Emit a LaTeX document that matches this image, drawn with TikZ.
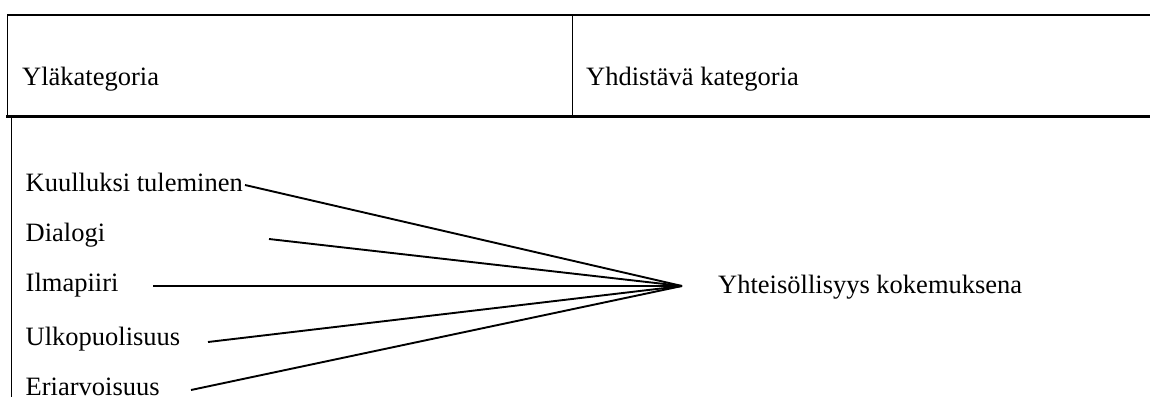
\documentclass[tikz,border=0pt]{standalone}
\usepackage{fontspec}
\setmainfont{Liberation Serif}
\begin{document}
\begin{tikzpicture}[x=1pt,y=-1pt,
  lbl/.style={anchor=base west,inner sep=0pt,font=\fontsize{26.5}{30}\selectfont},
  link/.style={line width=1.9pt},
  rule/.style={line width=1.7pt},
  heavy/.style={line width=3.4pt}]
\useasboundingbox (0,0) rectangle (1150,396);
\clip (0,0) rectangle (1150,396);
% header row of the table
\draw[rule] (1160,15) -- (7.5,15) -- (7.5,117);
\draw[rule] (572.5,15) -- (572.5,117);
\draw[heavy] (6,116.7) -- (1160,116.7);
\draw[rule] (11.5,117) -- (11.5,410);
\node[lbl] (head1) at (22,85) {Yläkategoria};
\node[lbl] (head2) at (586,85) {Yhdistävä kategoria};
% categories
\node[lbl] (k1) at (25.5,191.5) {Kuulluksi tuleminen};
\node[lbl] (k2) at (25.5,241.5) {Dialogi};
\node[lbl] (k3) at (25.5,291.5) {Ilmapiiri};
\node[lbl] (k4) at (25.5,345) {Ulkopuolisuus};
\node[lbl] (k5) at (25.5,395.5) {Eriarvoisuus};
\node[lbl] (res) at (718,293) {Yhteisöllisyys kokemuksena};
% connector ends
\coordinate (hub) at (682,286);
\coordinate (s1) at (245,185);
\coordinate (s2) at (269,239);
\coordinate (s3) at (153,286);
\coordinate (s4) at (208,342);
\coordinate (s5) at (191,390);
\foreach \s in {s1,s2,s3,s4,s5} \draw[link] (\s) -- (hub);
\end{tikzpicture}
\end{document}
